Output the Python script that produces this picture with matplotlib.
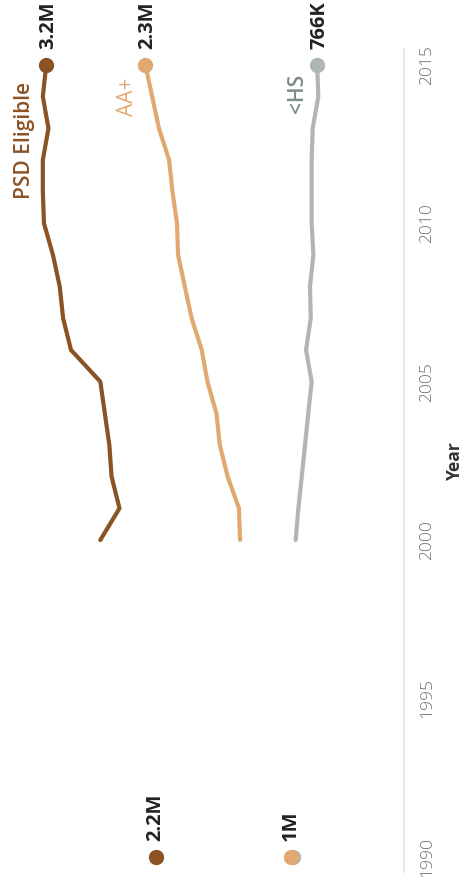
import matplotlib
matplotlib.use("Agg")
import matplotlib.pyplot as plt

# values in millions
years = list(range(2000, 2016))
psd_eligible = [2.69, 2.52, 2.59, 2.61, 2.65, 2.69, 2.95, 3.02,
                3.05, 3.11, 3.19, 3.20, 3.20, 3.15, 3.20, 3.17]
aa_plus = [1.45, 1.46, 1.56, 1.63, 1.66, 1.74, 1.79, 1.88,
           1.94, 2.00, 2.01, 2.05, 2.08, 2.17, 2.23, 2.29]
less_hs = [0.957, 0.933, 0.903, 0.874, 0.845, 0.815, 0.865, 0.823,
           0.830, 0.800, 0.815, 0.815, 0.815, 0.806, 0.756, 0.766]

series_names = ["PSD Eligible", "AA+", "<HS"]
series_values = [psd_eligible, aa_plus, less_hs]
end_labels = ["3.2M", "2.3M", "766K"]

start_year = 1990
start_values = [2.2, 1.0, 0.98]
start_labels = ["2.2M", "1M", ""]

tick_years = [1990, 1995, 2000, 2005, 2010, 2015]

line_colors = ["#8b5224", "#e2a872", "#afb6b7"]
name_colors = ["#8b5224", "#e2a872", "#7f8a8b"]
# where the series names sit (value, year)
name_pos = [(3.36, 2012.6), (2.445, 2014.0), (0.945, 2014.1)]
name_weights = ["semibold", "normal", "semibold"]

plt.rcParams["font.family"] = ["Open Sans", "DejaVu Sans"]

fig = plt.figure(figsize=(4.68, 8.77), dpi=100)
ax = fig.add_axes([0, 0, 1, 1])
ax.set_xlim(3.580, -0.572)
ax.set_ylim(1989.36, 2017.05)
ax.axis("off")

# baseline (value 0) doubles as the year axis
ax.plot([0, 0], [1989.53, 2015.5], color="#e3e3e3", lw=1.2, zorder=1)
for yr in tick_years:
    ax.text(-0.212, yr, str(yr), rotation=90, ha="center", va="center",
            fontsize=12.5, color="#707070", fontweight="light")
ax.text(-0.455, 2002.5, "Year", rotation=90, ha="center", va="center",
        fontsize=12.5, color="#333333", fontweight="bold")

# draw grey first so tan sits on top at 1990
for i in [2, 1, 0]:
    vals = series_values[i]
    c = line_colors[i]
    ax.plot(vals, years, color=c, lw=3, solid_capstyle="round",
            solid_joinstyle="round", zorder=2)
    ax.plot([vals[-1]], [years[-1]], "o", color=c, ms=10, zorder=3)
    ax.plot([start_values[i]], [start_year], "o", color=c, ms=10, zorder=3)
    ax.annotate(end_labels[i], (vals[-1], years[-1]), xytext=(2, 16),
                textcoords="offset pixels", rotation=90, ha="center",
                va="bottom", fontsize=14.5, fontweight="bold", color="#222222")
    if start_labels[i]:
        ax.annotate(start_labels[i], (start_values[i], start_year),
                    xytext=(0, 16), textcoords="offset pixels", rotation=90,
                    ha="center", va="bottom", fontsize=14.5,
                    fontweight="bold", color="#222222")
    nx, ny = name_pos[i]
    ax.text(nx, ny, series_names[i], rotation=90, ha="center", va="center",
            fontsize=15, color=name_colors[i], fontweight=name_weights[i])

fig.savefig("out.png", dpi=100)
